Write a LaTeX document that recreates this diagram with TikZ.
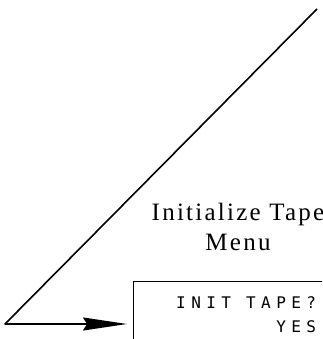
\documentclass[tikz,border=0pt]{standalone}
\usepackage{fontspec}
\setmainfont{Liberation Serif}
\newfontfamily\lcdfont[LetterSpace=34]{DejaVu Sans Mono}
\usetikzlibrary{arrows.meta}
\tikzset{
    feed/.style={-{Stealth[length=44pt, width=13pt, inset=4pt]}, line width=1.6pt, line join=round},
    screen/.style={draw, line width=1.2pt, minimum width=230pt, minimum height=90pt, anchor=north west, inner sep=0pt},
    title/.style={font=\fontsize{25}{30}\selectfont\addfontfeature{LetterSpace=9}, align=center, inner sep=0pt},
    lcd/.style={font=\fontsize{16}{24}\lcdfont, align=right, inner sep=0pt}
}

\begin{document}
\begin{tikzpicture}[x=1pt, y=-1pt]
    \useasboundingbox (0,0) rectangle (322,339);
    \clip (0,0) rectangle (322,339);
    % Punkte der Leitung
    \coordinate (top) at (317,9);
    \coordinate (corner) at (5,324);
    \coordinate (tip) at (127,324);

    % Menue
    \node[title, anchor=north] (menu) at (238,203) {Initialize Tape\\Menu};
    \node[screen] (screen) at (133,281) {};
    \node[lcd, anchor=north west] (prompt) at (176,296) {INIT TAPE?\\YES};

    % Leitung mit Pfeil
    \draw[feed] (top) -- (corner) -- (tip);
\end{tikzpicture}
\end{document}
